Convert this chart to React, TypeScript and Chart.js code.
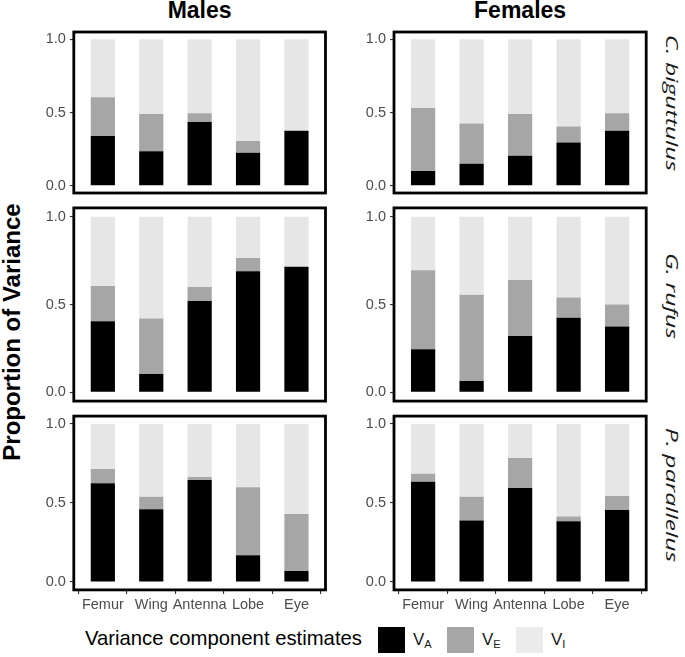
import React, { useEffect, useRef } from "react";
import { Chart, registerables } from "chart.js";

Chart.register(...registerables);

// ---------------- data ----------------
const categories = ["Femur", "Wing", "Antenna", "Lobe", "Eye"];
const sexes = ["Males", "Females"];
const species = ["C. biguttulus", "G. rufus", "P. parallelus"];
const yTicks = [0, 0.5, 1];
const legendTitle = "Variance component estimates";
const componentSubs = ["A", "E", "I"];
const yTitle = "Proportion of Variance";

// C. biguttulus
const cbMalesVA = [0.34, 0.235, 0.435, 0.225, 0.375];
const cbMalesVE = [0.265, 0.255, 0.06, 0.08, 0.0];
const cbMalesVI = [0.395, 0.51, 0.505, 0.695, 0.625];
const cbFemalesVA = [0.1, 0.15, 0.205, 0.295, 0.375];
const cbFemalesVE = [0.43, 0.275, 0.285, 0.11, 0.12];
const cbFemalesVI = [0.47, 0.575, 0.51, 0.595, 0.505];

// G. rufus
const grMalesVA = [0.405, 0.105, 0.52, 0.69, 0.715];
const grMalesVE = [0.2, 0.315, 0.08, 0.075, 0.0];
const grMalesVI = [0.395, 0.58, 0.4, 0.235, 0.285];
const grFemalesVA = [0.245, 0.065, 0.32, 0.425, 0.375];
const grFemalesVE = [0.45, 0.49, 0.32, 0.115, 0.125];
const grFemalesVI = [0.305, 0.445, 0.36, 0.46, 0.5];

// P. parallelus
const ppMalesVA = [0.625, 0.46, 0.645, 0.17, 0.07];
const ppMalesVE = [0.09, 0.08, 0.02, 0.43, 0.36];
const ppMalesVI = [0.285, 0.46, 0.335, 0.4, 0.57];
const ppFemalesVA = [0.635, 0.39, 0.595, 0.385, 0.455];
const ppFemalesVE = [0.05, 0.15, 0.19, 0.03, 0.09];
const ppFemalesVI = [0.315, 0.46, 0.215, 0.585, 0.455];

const panelData = [
  [
    [cbMalesVA, cbMalesVE, cbMalesVI],
    [cbFemalesVA, cbFemalesVE, cbFemalesVI],
  ],
  [
    [grMalesVA, grMalesVE, grMalesVI],
    [grFemalesVA, grFemalesVE, grFemalesVI],
  ],
  [
    [ppMalesVA, ppMalesVE, ppMalesVI],
    [ppFemalesVA, ppFemalesVE, ppFemalesVI],
  ],
];

// ---------------- styles / layout ----------------
const componentColors = ["#000000", "#A6A6A6", "#E6E6E6"];
const legendColors = ["#000000", "#A6A6A6", "#EBEBEB"];
const SANS = "'Liberation Sans', Arial, Helvetica, sans-serif";
const colBoxes = [
  { L: 73.8, R: 325.5 },
  { L: 394, R: 646.2 },
];
const rowBoxes = [
  { T: 32, B: 193 },
  { T: 207.9, B: 401.1 },
  { T: 416.1, B: 589.9 },
];
const stripCenters = [103, 296, 495];

const borderPlugin = {
  id: "panelBorder",
  afterDraw(chart: any) {
    const { ctx, chartArea: a } = chart;
    ctx.save();
    ctx.strokeStyle = "#000000";
    ctx.lineWidth = 2.8;
    ctx.strokeRect(a.left, a.top, a.right - a.left, a.bottom - a.top);
    ctx.restore();
  },
};

function zeroPad(s: any) {
  s.paddingTop = 0;
  s.paddingBottom = 0;
  s.paddingLeft = 0;
  s.paddingRight = 0;
}

type Box = { L: number; R: number; T: number; B: number };

function Panel({ series, box, showX }: { series: number[][]; box: Box; showX: boolean }) {
  const ref = useRef<HTMLCanvasElement | null>(null);
  const cx0 = Math.floor(box.L) - 45;
  const cy0 = Math.floor(box.T) - 4;
  const w = Math.ceil(box.R) + 4 - cx0;
  const h = Math.ceil(box.B) + (showX ? 30 : 4) - cy0;

  useEffect(() => {
    if (!ref.current) return;
    const tickFont = { family: SANS, size: 14.5 };
    const chart = new Chart(ref.current, {
      type: "bar",
      data: {
        datasets: series.map((arr, k) => ({
          label: "V" + componentSubs[k],
          data: arr.map((v, i) => ({ x: i + 1, y: v })),
          backgroundColor: componentColors[k],
          borderWidth: 0,
          categoryPercentage: 1,
          barPercentage: 0.5,
        })),
      },
      options: {
        responsive: false,
        animation: false,
        devicePixelRatio: 1,
        layout: {
          autoPadding: false,
          padding: {
            left: 0,
            top: box.T - cy0,
            right: cx0 + w - box.R,
            bottom: showX ? 0 : cy0 + h - box.B,
          },
        },
        plugins: {
          legend: { display: false },
          tooltip: { enabled: false },
        },
        scales: {
          x: {
            type: "linear",
            display: showX,
            min: 0.4,
            max: 5.6,
            offset: false,
            stacked: true,
            afterBuildTicks: (s: any) => {
              s.ticks = categories.map((_, i) => ({ value: i + 1 }));
            },
            afterFit: (s: any) => {
              s.height = showX ? cy0 + h - box.B : 0;
              zeroPad(s);
            },
            ticks: {
              callback: (v: any) => categories[Math.round(Number(v)) - 1] ?? "",
              color: "#4D4D4D",
              font: tickFont,
              padding: 2,
              maxRotation: 0,
              minRotation: 0,
              autoSkip: false,
            },
            grid: {
              drawOnChartArea: false,
              drawTicks: true,
              tickLength: 4,
              color: "#333333",
              lineWidth: 1.1,
            },
            border: { display: false },
          },
          y: {
            type: "linear",
            min: -0.05,
            max: 1.05,
            stacked: true,
            afterBuildTicks: (s: any) => {
              s.ticks = yTicks.map((v) => ({ value: v }));
            },
            afterFit: (s: any) => {
              s.width = box.L - cx0;
              zeroPad(s);
            },
            ticks: {
              callback: (v: any) => Number(v).toFixed(1),
              color: "#4D4D4D",
              font: tickFont,
              padding: 4,
            },
            grid: {
              drawOnChartArea: false,
              drawTicks: true,
              tickLength: 4,
              color: "#333333",
              lineWidth: 1.1,
            },
            border: { display: false },
          },
        },
      } as any,
      plugins: [borderPlugin],
    });
    return () => chart.destroy();
  }, []);

  return (
    <canvas
      ref={ref}
      width={w}
      height={h}
      style={{ position: "absolute", left: cx0, top: cy0, width: w, height: h }}
    />
  );
}

export default function App() {
  const panels: any[] = [];
  rowBoxes.forEach((rb, r) => {
    colBoxes.forEach((cb, c) => {
      panels.push(
        <Panel
          key={`${r}-${c}`}
          series={panelData[r][c]}
          box={{ L: cb.L, R: cb.R, T: rb.T, B: rb.B }}
          showX={r === rowBoxes.length - 1}
        />
      );
    });
  });

  return (
    <div
      style={{
        position: "fixed",
        left: 0,
        top: 0,
        width: 685,
        height: 657,
        background: "#ffffff",
        overflow: "hidden",
        fontFamily: SANS,
      }}
    >
      {panels}

      {sexes.map((s, c) => {
        const cx = (colBoxes[c].L + colBoxes[c].R) / 2;
        return (
          <div
            key={s}
            style={{
              position: "absolute",
              left: cx - 150,
              width: 300,
              top: -1,
              height: 23,
              lineHeight: "23px",
              fontSize: 23,
              fontWeight: "bold",
              textAlign: "center",
              color: "#000",
              whiteSpace: "nowrap",
            }}
          >
            {s}
          </div>
        );
      })}

      {species.map((sp, r) => (
        <div
          key={sp}
          style={{
            position: "absolute",
            left: 672 - 150,
            width: 300,
            top: stripCenters[r] - 10,
            height: 20,
            lineHeight: "20px",
            fontSize: 19,
            fontStyle: "italic",
            fontFamily: "'Open Sans', 'Noto Sans', sans-serif",
            textAlign: "center",
            color: "#1A1A1A",
            whiteSpace: "nowrap",
            transform: "rotate(90deg) scale(1.3, 0.9)",
          }}
        >
          {sp}
        </div>
      ))}

      <div
        style={{
          position: "absolute",
          left: 11.5 - 200,
          width: 400,
          top: 332 - 12,
          height: 24,
          lineHeight: "24px",
          fontSize: 24,
          fontWeight: "bold",
          textAlign: "center",
          color: "#000",
          whiteSpace: "nowrap",
          transform: "rotate(-90deg)",
        }}
      >
        {yTitle}
      </div>

      <div
        style={{
          position: "absolute",
          left: 85,
          top: 628,
          height: 20,
          lineHeight: "20px",
          fontSize: 20.3,
          color: "#000",
          whiteSpace: "nowrap",
        }}
      >
        {legendTitle}
      </div>

      {componentSubs.map((sub, k) => (
        <React.Fragment key={sub}>
          <div
            style={{
              position: "absolute",
              left: 378 + 69 * k,
              top: 627,
              width: 27,
              height: 26,
              background: legendColors[k],
            }}
          />
          <div
            style={{
              position: "absolute",
              left: 413 + 69 * k,
              top: 631,
              height: 20,
              lineHeight: "17px",
              fontSize: 17,
              color: "#1A1A1A",
              whiteSpace: "nowrap",
            }}
          >
            V
            <span style={{ fontSize: 11, position: "relative", top: 3 }}>{sub}</span>
          </div>
        </React.Fragment>
      ))}
    </div>
  );
}
